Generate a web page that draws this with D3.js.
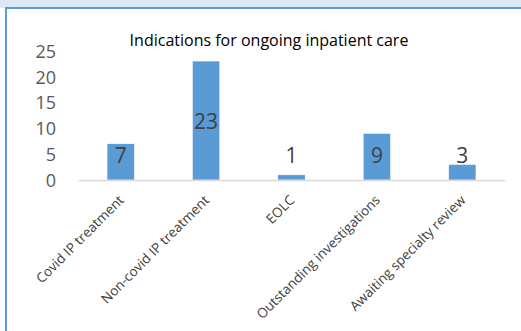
<!DOCTYPE html>
<html>
<head>
<meta charset="utf-8">
<script src="https://cdn.jsdelivr.net/npm/d3@7"></script>
<style>
  html, body { margin: 0; padding: 0; background: #ffffff; }
  svg { display: block; }
</style>
</head>
<body>
<svg id="chart" width="521" height="331"></svg>
<script>
// Indications for ongoing inpatient care
const categories = [
  "Covid IP treatment",
  "Non-covid IP treatment",
  "EOLC",
  "Outstanding investigations",
  "Awaiting specialty review"
];
const counts = [7, 23, 1, 9, 3];
const yTicks = [0, 5, 10, 15, 20, 25];
const chartTitle = "Indications for ongoing inpatient care";

const W = 521, H = 331;
const svg = d3.select("#chart");

// frame: pale header strip with blue rules along top and left
svg.append("rect").attr("x", 0).attr("y", 0).attr("width", W).attr("height", 8).attr("fill", "#dde8f4");
svg.append("rect").attr("x", 5).attr("y", 7).attr("width", W - 5).attr("height", 2).attr("fill", "#5b9bd5");
svg.append("rect").attr("x", 5).attr("y", 7).attr("width", 2).attr("height", H - 7).attr("fill", "#5b9bd5");

const x = d3.scaleBand().domain(categories).range([78, 505]).paddingInner(0.68).paddingOuter(0.34);
const y = d3.scaleLinear().domain([0, 25]).range([180, 50.7]);

// value axis labels (no line)
const yAxis = d3.axisLeft(y).tickValues(yTicks).tickSize(0).tickPadding(0);
const gy = svg.append("g").attr("transform", "translate(56,0)").call(yAxis);
gy.select(".domain").remove();
gy.selectAll("text")
  .attr("font-family", "'Open Sans', sans-serif")
  .attr("font-size", 18)
  .attr("fill", "#595959")
  .attr("dy", "0.36em");

// bars
svg.append("g").selectAll("rect")
  .data(categories)
  .join("rect")
  .attr("x", d => x(d))
  .attr("y", (d, i) => y(counts[i]))
  .attr("width", x.bandwidth())
  .attr("height", (d, i) => y(0) - y(counts[i]))
  .attr("fill", "#5b9bd5")
  .attr("stroke", "#ffffff")
  .attr("stroke-width", 0.5);

// category axis
const xAxis = d3.axisBottom(x).tickSize(0).tickPadding(0);
const gx = svg.append("g").attr("transform", "translate(0,180)").call(xAxis);
gx.select(".domain").attr("stroke", "#d9d9d9").attr("stroke-width", 1.5);
gx.selectAll("text")
  .attr("font-family", "'Open Sans', sans-serif")
  .attr("font-size", 13.5)
  .attr("fill", "#404040")
  .attr("text-anchor", "end")
  .attr("dy", "0")
  .attr("y", 0)
  .attr("transform", "translate(4,21) rotate(-45)");

// value labels
svg.append("g").selectAll("text")
  .data(categories)
  .join("text")
  .attr("x", d => x(d) + x.bandwidth() / 2)
  .attr("y", (d, i) => Math.min(y(counts[i] / 2) + 8, 163))
  .attr("text-anchor", "middle")
  .attr("font-family", "'Open Sans', sans-serif")
  .attr("font-size", 21)
  .attr("fill", "#404040")
  .text((d, i) => counts[i]);

// title
svg.append("text")
  .attr("x", 269)
  .attr("y", 46)
  .attr("text-anchor", "middle")
  .attr("font-family", "'Open Sans', sans-serif")
  .attr("font-size", 16)
  .attr("fill", "#000000")
  .text(chartTitle);
</script>
</body>
</html>
